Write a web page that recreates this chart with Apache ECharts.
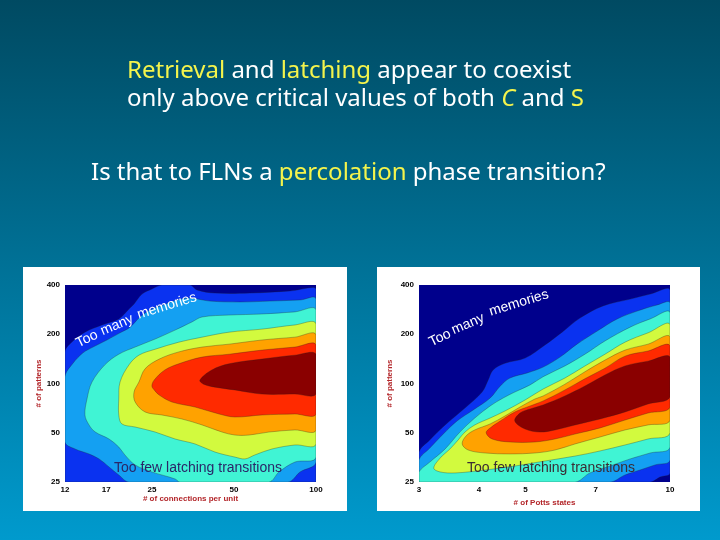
<!DOCTYPE html>
<html>
<head>
<meta charset="utf-8">
<script src="https://cdn.jsdelivr.net/npm/echarts@6/dist/echarts.min.js"></script>
<style>
  html, body { margin: 0; padding: 0; }
  #chart { width: 720px; height: 540px; }
</style>
</head>
<body>
<div id="chart"></div>
<script>
// tick labels
const yTicks = [25, 50, 100, 200, 400];
const leftXTicks = [12, 17, 25, 50, 100];
const rightXTicks = [3, 4, 5, 7, 10];

// contour colours, level 0 (navy) .. 7 (dark red)
const levelColors = ['#00008c', '#0a32f0', '#14a0f2', '#40f4d4', '#d2fa3e', '#ffa200', '#ff2a00', '#8a0000'];

// left panel: filled contour regions [connections per unit, # of patterns]
const leftBlue = [[12,156],[12.7,179],[14.2,206],[16.4,228],[18.9,248],[20.6,285],[21.5,306],[23,352],[25,378],[27.2,400],[34.5,400],[36.6,373],[42.6,357],[57.3,357],[80.3,368],[100,378],[100,25],[12,25]];
const leftSky = [[12,110],[12.84,133],[13.97,154],[15.2,167],[17.1,184.5],[19.1,204],[20.8,221],[22.6,255],[24.6,281],[27.5,302],[30.9,324],[34.5,333],[40.8,319],[52.6,315],[67.8,319],[87.4,324],[100,328],[100,33.1],[87.4,28.8],[78.9,25],[20.6,25],[18.9,27.6],[17.4,30.9],[16,34.6],[14.7,37.1],[13.06,39.8],[12,43.9]];
const leftCyan = [[15.07,102],[16.8,130],[18.9,151],[21.7,167],[25.7,187],[30.4,212],[35.1,238],[38.2,255],[48,262],[63.4,266],[83.7,274],[100,281],[100,35.5],[83.7,33.1],[73.2,28.8],[67.2,25],[31.7,25],[30.4,26.1],[25,28.8],[21.7,31.8],[19.9,36.6],[18.9,40.9],[17.4,45.8],[15.5,50.5],[14.7,55.8],[14.2,64.2],[14.45,80.4]];
const leftYellow = [[19.1,102],[20.6,130],[22.4,149],[25.7,162],[31.4,179],[38.2,192],[48,206],[63.4,215],[83.7,228],[100,231],[100,42.7],[83.7,42.1],[69,39.8],[59.7,36.6],[54.9,34.6],[50.4,35.5],[42.6,38.1],[36,42.7],[30.4,45.8],[25.7,50.5],[21.7,54.2],[19.4,56.6],[18.9,64.2],[18.9,80.4]];
const leftOrange = [[22.4,102],[23.6,123],[26.6,141],[31.4,156],[38.2,167],[48,174],[63.4,184.5],[83.7,192],[100,198],[100,52],[83.7,52],[67.2,50.5],[56.8,48.4],[50.4,48.4],[45.2,50.5],[38.2,55.8],[32.2,60.7],[27.2,64.2],[23.6,67],[21.7,77.1],[21.5,88.7]];
const leftRed = [[25,96.5],[25.5,105],[27.9,121],[31.4,132],[38.2,145],[48,151],[63.4,160],[83.7,167],[100,172],[100,65.1],[83.7,65.1],[63.4,64.2],[50.4,62.4],[44.1,65.1],[36,71.8],[29.6,77.1],[26.6,85],[25.5,91.3]];
const leftDarkRed = [[37.5,105],[41.5,121],[48,132],[63.4,141],[83.7,149],[100,151],[100,86.2],[83.7,86.2],[63.4,86.2],[50.4,91.3],[42.6,95],[38.7,99]];

// right panel: filled contour regions [Potts states, # of patterns]
const rightBlue = [[3,38.1],[3.16,45.2],[3.4,55.8],[3.74,70.8],[4.06,88.7],[4.18,105],[4.28,121],[4.53,133],[4.99,143],[5.49,172],[5.96,206],[6.49,251],[7.25,298],[8.26,328],[9.09,352],[10,373],[10,28.4],[9.53,26.8],[9.09,25],[3,25]];
const rightSky = [[3,34.1],[3.16,40.3],[3.37,49.1],[3.6,59],[3.89,68.9],[4.22,81.5],[4.43,96.5],[4.64,108],[5.04,116],[5.44,126],[5.9,145],[6.4,174],[7.05,209],[7.76,248],[8.54,277],[9.4,302],[10,310],[10,34.1],[9.31,31.8],[8.66,29.6],[8.06,27.6],[7.5,25],[3,25]];
const rightCyan = [[3,28.8],[3.16,33.1],[3.4,39.8],[3.65,50.5],[3.92,61.5],[4.22,72.9],[4.49,81.5],[4.75,88.7],[5.11,98],[5.44,110],[6.04,128],[6.65,151],[7.32,182],[8.26,221],[9.09,248],[10,270],[10,40.9],[9.09,37.6],[8.26,34.6],[7.5,31.3],[6.81,28.4],[6.34,25],[3,25]];
const rightYellow = [[3.22,30.4],[3.32,35],[3.48,39.8],[3.62,45.2],[3.74,50.5],[3.92,55.8],[4.22,61.5],[4.53,67.9],[4.99,79.3],[5.44,92.5],[6.04,108],[6.65,128],[7.32,151],[8.06,179],[9,204],[10,228],[10,50],[9,45.8],[8.06,42.1],[7.15,38.7],[6.34,36],[5.49,33.6],[4.75,31.3],[4.12,29.6],[3.57,28.4],[3.32,28.8]];
const rightOrange = [[3.69,42.7],[3.76,47.8],[3.92,52],[4.22,56.6],[4.53,63.3],[4.87,71.8],[5.23,80.4],[5.44,83.9],[6.04,99],[6.65,118],[7.32,139],[8.06,160],[9,174],[10,192],[10,59.8],[9,55.8],[8.06,52],[7.15,47.1],[6.34,42.7],[5.76,39.2],[5.23,37.6],[4.64,37.1],[4.12,37.6],[3.8,39.2]];
const rightRed = [[4.14,50],[4.22,53.5],[4.43,59],[4.75,67],[5.11,72.9],[5.44,78.2],[6.04,91.3],[6.65,107],[7.32,124],[8.06,147],[9,158],[10,170],[10,71.8],[9,66],[8.06,59.8],[7.15,53.5],[6.34,49.1],[5.76,45.8],[5.23,43.9],[4.64,43.9],[4.26,45.8]];
const rightDarkRed = [[4.75,59],[4.87,66],[5.11,69.9],[5.44,73.9],[6.04,83.9],[6.65,96.5],[7.32,112.7],[8.06,128],[9,137],[10,145],[10,82.7],[9,75],[8.06,67],[7.15,60.7],[6.34,55.8],[5.76,52],[5.36,50.5],[4.99,52.7]];

const myChart = echarts.init(document.getElementById('chart'));
const sans = '"Liberation Sans", Arial, sans-serif';
const slideFont = '"Noto Sans", sans-serif';
const yellow = '#f4f44c';

// one filled contour region, drawn through the axes of grid gi
function contour(pts, level, gi) {
  return {
    type: 'custom',
    xAxisIndex: gi,
    yAxisIndex: gi,
    clip: true,
    silent: true,
    z: 2 + level,
    data: pts,
    renderItem: function (params, api) {
      if (params.dataIndex !== 0) return null;
      const cs = params.coordSys;
      return {
        type: 'polygon',
        shape: {
          points: pts.map((p) => api.coord(p)),
          smooth: 0.35,
          smoothConstraint: [[cs.x, cs.y], [cs.x + cs.width, cs.y + cs.height]]
        },
        style: { fill: levelColors[level], stroke: 'rgba(30,30,30,0.5)', lineWidth: 0.6 }
      };
    }
  };
}

function xAxis(gi, min, max, ticks, name, gap) {
  return {
    gridIndex: gi, type: 'log', min: min, max: max,
    axisLine: { show: false }, axisTick: { show: false }, splitLine: { show: false },
    axisLabel: { customValues: ticks, showMinLabel: true, showMaxLabel: true, hideOverlap: false,
      color: '#000', fontSize: 8, fontWeight: 'bold', fontFamily: sans, margin: 4 },
    name: name, nameLocation: 'middle', nameGap: gap,
    nameTextStyle: { color: '#b3262a', fontSize: 8, fontWeight: 'bold', fontFamily: sans }
  };
}

function yAxis(gi, gap) {
  return {
    gridIndex: gi, type: 'log', min: 25, max: 400,
    axisLine: { show: false }, axisTick: { show: false }, splitLine: { show: false },
    axisLabel: { customValues: yTicks, showMinLabel: true, showMaxLabel: true, hideOverlap: false,
      color: '#000', fontSize: 8, fontWeight: 'bold', fontFamily: sans, margin: 5 },
    name: '# of patterns', nameLocation: 'middle', nameGap: gap,
    nameTextStyle: { color: '#b3262a', fontSize: 8, fontWeight: 'bold', fontFamily: sans }
  };
}

function slideText(x, y, text) {
  return {
    type: 'text', x: x, y: y, z: 100,
    style: {
      text: text, fill: '#ffffff', fontSize: 24, fontFamily: slideFont, verticalAlign: 'middle',
      rich: {
        y: { fill: yellow, fontSize: 24, fontFamily: slideFont },
        yi: { fill: yellow, fontSize: 24, fontFamily: slideFont, fontStyle: 'italic' }
      }
    }
  };
}

function note(x, y, text, rot, color) {
  return {
    type: 'text', x: x, y: y, rotation: rot, z: 100,
    style: { text: text, fill: color, fontSize: 14, fontFamily: sans, align: 'center', verticalAlign: 'middle' }
  };
}

const option = {
  animation: false,
  graphic: [
    { type: 'rect', z: -100, shape: { x: 0, y: 0, width: 720, height: 540 },
      style: { fill: new echarts.graphic.LinearGradient(0, 0, 0, 1, [
        { offset: 0, color: '#004a62' }, { offset: 1, color: '#009acd' }]) } },
    { type: 'rect', z: -50, shape: { x: 23, y: 267, width: 324, height: 244 }, style: { fill: '#ffffff' } },
    { type: 'rect', z: -50, shape: { x: 377, y: 267, width: 323, height: 244 }, style: { fill: '#ffffff' } },
    slideText(127, 71, '{y|Retrieval} and {y|latching} appear to coexist'),
    slideText(127, 99, 'only above critical values of both {yi|C} and {y|S}'),
    slideText(91, 173, 'Is that to FLNs a {y|percolation} phase transition?'),
    note(87, 339, 'Too', 0.45, '#ffffff'),
    note(117, 325, 'many', 0.4, '#ffffff'),
    note(167, 306, 'memories', 0.3, '#ffffff'),
    note(440, 338, 'Too', 0.45, '#ffffff'),
    note(468, 324, 'many', 0.4, '#ffffff'),
    note(519, 303, 'memories', 0.3, '#ffffff'),
    note(198, 468, 'Too few latching transitions', 0, '#2a2668'),
    note(551, 468, 'Too few latching transitions', 0, '#3a2c34')
  ],
  grid: [
    { left: 65, top: 285, width: 251, height: 197, show: true, backgroundColor: levelColors[0], borderWidth: 0 },
    { left: 419, top: 285, width: 251, height: 197, show: true, backgroundColor: levelColors[0], borderWidth: 0 }
  ],
  xAxis: [
    xAxis(0, 12, 100, leftXTicks, '# of connections per unit', 13),
    xAxis(1, 3, 10, rightXTicks, '# of Potts states', 17)
  ],
  yAxis: [yAxis(0, 22), yAxis(1, 25)],
  series: [
    contour(leftBlue, 1, 0),
    contour(leftSky, 2, 0),
    contour(leftCyan, 3, 0),
    contour(leftYellow, 4, 0),
    contour(leftOrange, 5, 0),
    contour(leftRed, 6, 0),
    contour(leftDarkRed, 7, 0),
    contour(rightBlue, 1, 1),
    contour(rightSky, 2, 1),
    contour(rightCyan, 3, 1),
    contour(rightYellow, 4, 1),
    contour(rightOrange, 5, 1),
    contour(rightRed, 6, 1),
    contour(rightDarkRed, 7, 1)
  ]
};

myChart.setOption(option);
</script>
</body>
</html>
